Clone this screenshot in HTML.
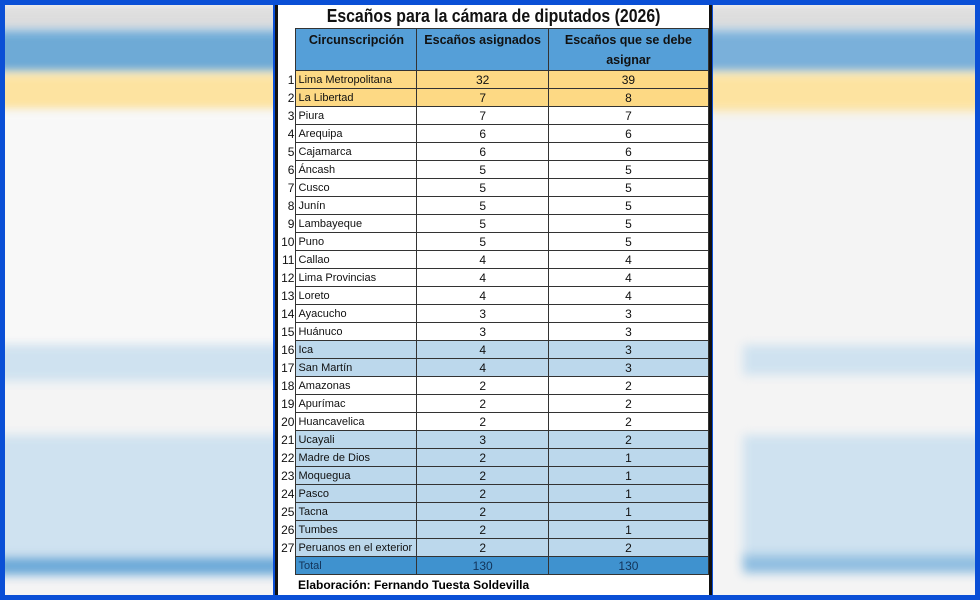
<!DOCTYPE html>
<html><head><meta charset="utf-8"><style>
*{margin:0;padding:0;box-sizing:border-box}
body{width:980px;height:600px;background:#0a4fd6;position:relative;overflow:hidden;font-family:"Liberation Sans",sans-serif}
.side{position:absolute;top:5px;height:590px;background:#f4f4f4;overflow:hidden}
.side div{position:absolute;left:-10px;right:-10px;filter:blur(5px)}
#main{position:absolute;left:275px;top:5px;width:437px;height:590px;background:#fff;border-left:3px solid #111;border-right:3px solid #111}
.title{position:absolute;left:0;top:0;width:431px;height:23px;text-align:center;font-family:"Liberation Sans",sans-serif;font-weight:bold;font-size:18px;line-height:23px;color:#111}
.title span{display:inline-block;transform:scaleX(0.88)}
table{position:absolute;left:0;top:23px;border-collapse:collapse;font-size:11px;color:#111;table-layout:fixed}
td{border:1px solid #333;height:18px;padding:0 2px;line-height:16px;white-space:nowrap;overflow:hidden}
td.n{border:none;width:18px;text-align:right;padding:0 1px 0 0;font-size:12px}
td.c{text-align:center;font-size:12px}
tr.h td{background:#559fd8;height:40px;vertical-align:top;text-align:center;font-weight:bold;font-size:12.5px;line-height:20px;padding-top:1px;white-space:normal}
tr.h td.n{background:#fff}
tr.y td{background:#fdd984}
tr.b td{background:#bcd8ec}
tr.y td.n,tr.b td.n{background:#fff}
tr.t td{background:#3f92cf;color:#12345a}
tr.t td.n{background:#fff}
.foot{position:absolute;left:20px;top:573px;font-weight:bold;font-size:12px}
</style></head><body>
<div class="side" style="left:5px;width:268px">
<div style="top:0;height:25px;background:#ddd"></div>
<div style="top:25px;height:43px;background:#6eaad6"></div>
<div style="top:68px;height:38px;background:#fde3a0"></div>
<div style="top:106px;height:234px;background:#f8f8f8"></div>
<div style="top:340px;height:36px;background:#cfe2f0"></div>
<div style="top:430px;height:122px;background:#cfe2f0"></div>
<div style="top:552px;height:18px;background:#6aa8d8"></div>
</div>
<div class="side" style="left:713px;width:262px">
<div style="top:0;height:25px;background:#ddd"></div>
<div style="top:25px;height:43px;background:#7ab0da"></div>
<div style="top:68px;height:38px;background:#fde3a0"></div>
<div style="top:340px;height:30px;background:#cfe2f0;left:30px"></div>
<div style="top:430px;height:125px;background:#cfe2f0;left:30px"></div>
<div style="top:550px;height:18px;background:#8ebde0;left:30px"></div>
</div>
<div id="main">
<div class="title"><span>Escaños para la cámara de diputados (2026)</span></div>
<table>
<colgroup><col style="width:18px"><col style="width:121px"><col style="width:132px"><col style="width:161px"></colgroup>
<tr class="h"><td class="n"></td><td>Circunscripción</td><td>Escaños asignados</td><td>Escaños que se debe asignar</td></tr>
<tr class="y"><td class="n">1</td><td>Lima Metropolitana</td><td class="c">32</td><td class="c">39</td></tr>
<tr class="y"><td class="n">2</td><td>La Libertad</td><td class="c">7</td><td class="c">8</td></tr>
<tr><td class="n">3</td><td>Piura</td><td class="c">7</td><td class="c">7</td></tr>
<tr><td class="n">4</td><td>Arequipa</td><td class="c">6</td><td class="c">6</td></tr>
<tr><td class="n">5</td><td>Cajamarca</td><td class="c">6</td><td class="c">6</td></tr>
<tr><td class="n">6</td><td>Áncash</td><td class="c">5</td><td class="c">5</td></tr>
<tr><td class="n">7</td><td>Cusco</td><td class="c">5</td><td class="c">5</td></tr>
<tr><td class="n">8</td><td>Junín</td><td class="c">5</td><td class="c">5</td></tr>
<tr><td class="n">9</td><td>Lambayeque</td><td class="c">5</td><td class="c">5</td></tr>
<tr><td class="n">10</td><td>Puno</td><td class="c">5</td><td class="c">5</td></tr>
<tr><td class="n">11</td><td>Callao</td><td class="c">4</td><td class="c">4</td></tr>
<tr><td class="n">12</td><td>Lima Provincias</td><td class="c">4</td><td class="c">4</td></tr>
<tr><td class="n">13</td><td>Loreto</td><td class="c">4</td><td class="c">4</td></tr>
<tr><td class="n">14</td><td>Ayacucho</td><td class="c">3</td><td class="c">3</td></tr>
<tr><td class="n">15</td><td>Huánuco</td><td class="c">3</td><td class="c">3</td></tr>
<tr class="b"><td class="n">16</td><td>Ica</td><td class="c">4</td><td class="c">3</td></tr>
<tr class="b"><td class="n">17</td><td>San Martín</td><td class="c">4</td><td class="c">3</td></tr>
<tr><td class="n">18</td><td>Amazonas</td><td class="c">2</td><td class="c">2</td></tr>
<tr><td class="n">19</td><td>Apurímac</td><td class="c">2</td><td class="c">2</td></tr>
<tr><td class="n">20</td><td>Huancavelica</td><td class="c">2</td><td class="c">2</td></tr>
<tr class="b"><td class="n">21</td><td>Ucayali</td><td class="c">3</td><td class="c">2</td></tr>
<tr class="b"><td class="n">22</td><td>Madre de Dios</td><td class="c">2</td><td class="c">1</td></tr>
<tr class="b"><td class="n">23</td><td>Moquegua</td><td class="c">2</td><td class="c">1</td></tr>
<tr class="b"><td class="n">24</td><td>Pasco</td><td class="c">2</td><td class="c">1</td></tr>
<tr class="b"><td class="n">25</td><td>Tacna</td><td class="c">2</td><td class="c">1</td></tr>
<tr class="b"><td class="n">26</td><td>Tumbes</td><td class="c">2</td><td class="c">1</td></tr>
<tr class="b"><td class="n">27</td><td>Peruanos en el exterior</td><td class="c">2</td><td class="c">2</td></tr>
<tr class="t"><td class="n"></td><td>Total</td><td class="c">130</td><td class="c">130</td></tr>
</table>
<div class="foot">Elaboración: Fernando Tuesta Soldevilla</div>
</div>
</body></html>
